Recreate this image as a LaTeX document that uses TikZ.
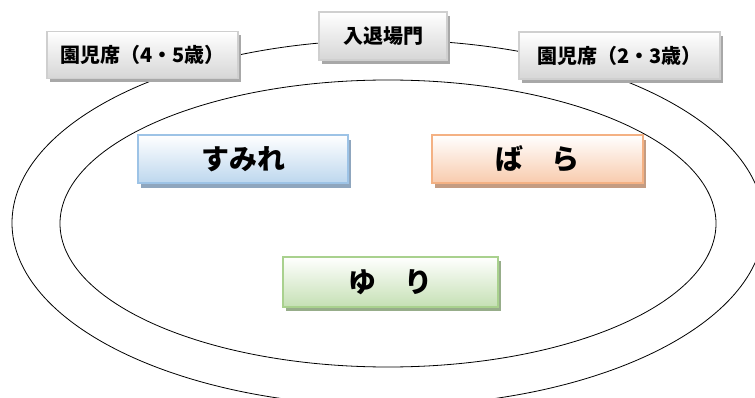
\documentclass[tikz,border=0pt]{standalone}
\usepackage{fontspec}
\newfontfamily\jpfont{Noto Sans CJK JP}
\usepackage{tikz}
\usetikzlibrary{shadows,positioning}
\definecolor{seatline}{HTML}{CFCFCF}
\definecolor{seatfill}{HTML}{D6D6D6}
\definecolor{seatshadow}{HTML}{A8A8A8}
\definecolor{blueline}{HTML}{9DC3E6}
\definecolor{bluefill}{HTML}{BDD7EE}
\definecolor{blueshadow}{HTML}{8FA6BE}
\definecolor{orangeline}{HTML}{F4B183}
\definecolor{orangefill}{HTML}{F8CBAD}
\definecolor{orangeshadow}{HTML}{C49C82}
\definecolor{greenline}{HTML}{A9D18E}
\definecolor{greenfill}{HTML}{C5E0B4}
\definecolor{greenshadow}{HTML}{97AD8A}
\tikzstyle{seat} = [draw=seatline, line width=1.5pt, top color=white, bottom color=seatfill, general shadow={fill=seatshadow, shadow xshift=3pt, shadow yshift=-4pt}, minimum height=47pt, inner sep=0pt, font=\jpfont\bfseries\fontsize{20}{20}\selectfont]
\tikzstyle{classbox} = [line width=1.8pt, top color=white, minimum width=211pt, minimum height=48pt, inner sep=0pt, font=\jpfont\bfseries\fontsize{28}{28}\selectfont]

\begin{document}
\begin{tikzpicture}[x=1pt,y=-1pt]
    \useasboundingbox (0,0) rectangle (755,398);
    \clip (0,0) rectangle (755,398);
    % Track
    \draw[line width=0.8pt] (388,223) ellipse [x radius=376pt, y radius=183pt];
    \draw[line width=0.8pt] (388,223.5) ellipse [x radius=328pt, y radius=143.5pt];

    % Seats
    \node [seat, minimum width=191pt] (seatfour) at (142.5,55) {園児席（4・5歳）};
    \node [seat, minimum width=128pt, minimum height=48pt] (gate) at (383,36) {入退場門};
    \node [seat, minimum width=201pt] (seattwo) at (619.5,55.5) {園児席（2・3歳）};

    % Classes
    \node [classbox, draw=blueline, bottom color=bluefill, general shadow={fill=blueshadow, shadow xshift=3pt, shadow yshift=-5pt}, minimum width=210pt] (sumire) at (243,159) {すみれ};
    \node [classbox, right=82pt of sumire, draw=orangeline, bottom color=orangefill, general shadow={fill=orangeshadow, shadow xshift=3pt, shadow yshift=-5pt}] (bara) {ば　ら};
    \node [classbox, draw=greenline, bottom color=greenfill, general shadow={fill=greenshadow, shadow xshift=3pt, shadow yshift=-4pt}, minimum width=215pt, minimum height=50pt] (yuri) at (390.5,282) {ゆ　り};
\end{tikzpicture}
\end{document}
